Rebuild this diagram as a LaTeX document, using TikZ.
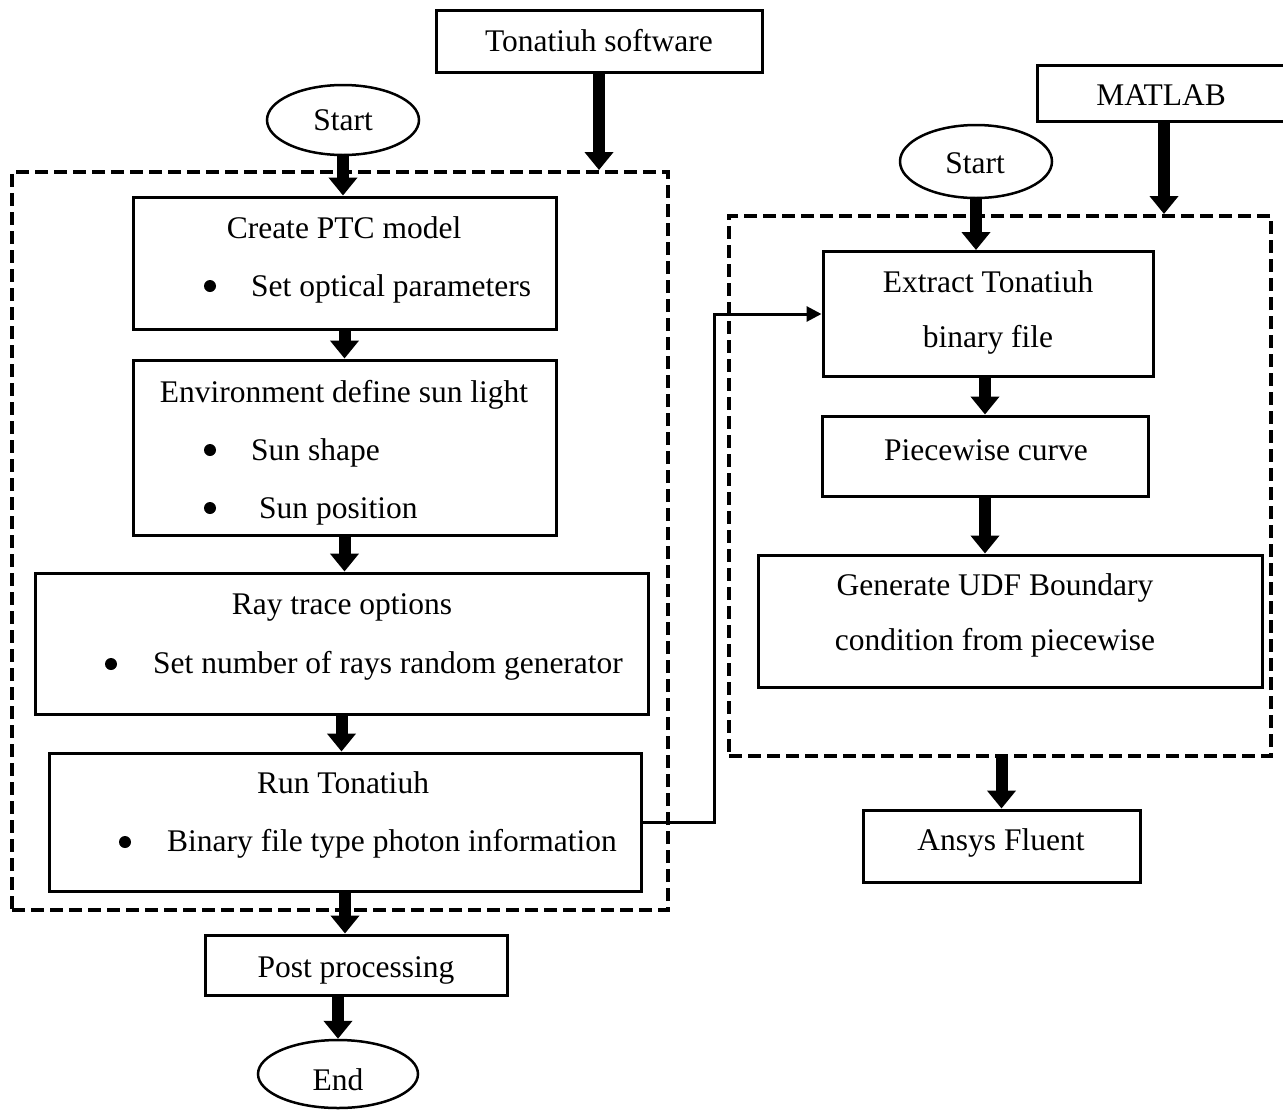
\documentclass[tikz,border=0pt]{standalone}
\usepackage{fontspec}
\setmainfont{Liberation Serif}
\usetikzlibrary{arrows.meta,shapes.geometric}

\tikzset{
  box/.style={draw, line width=3pt, inner sep=0pt},
  terminal/.style={draw, ellipse, line width=2.5pt, inner sep=0pt},
  groupbox/.style={draw, line width=4pt, dash pattern=on 13pt off 6pt, inner sep=0pt},
  txt/.style={anchor=base, inner sep=0pt},
  txtleft/.style={anchor=base west, inner sep=0pt},
  dot/.style={circle, fill, inner sep=0pt, minimum size=12pt},
  flow/.style={line width=12pt, -{Triangle[width=28pt,length=18pt]}},
  link/.style={line width=3pt, -{Triangle[width=15pt,length=15pt]}}
}

\begin{document}
\begin{tikzpicture}[x=1pt, y=-1pt,
    every node/.style={font=\fontsize{31.5}{38}\selectfont}]
\useasboundingbox (0,0) rectangle (1283,1109);
\fill[white] (0,0) rectangle (1283,1109);

% dashed groups
\node[groupbox, minimum width=656, minimum height=738] (leftgroup) at (340,541) {};
\node[groupbox, minimum width=542, minimum height=540] (rightgroup) at (1000,486) {};

% left chain
\node[box, minimum width=326, minimum height=62] (tona) at (599,41) {};
\node[txt] (tonatxt) at (599,51) {Tonatiuh software};

\node[terminal, minimum width=152, minimum height=70] (start1) at (343,120) {};
\node[txt] (start1txt) at (343,130) {Start};

\node[box, minimum width=423, minimum height=132] (ptc) at (344.5,263) {};
\node[txt] (ptctitle) at (344,238) {Create PTC model};
\node[dot] (ptcdot) at (210,286) {};
\node[txtleft] (ptcitem) at (251,296) {Set optical parameters};

\node[box, minimum width=423, minimum height=175] (env) at (344.5,447.5) {};
\node[txt] (envtitle) at (344,402) {Environment define sun light};
\node[dot] (envdota) at (210,450) {};
\node[txtleft] (envitema) at (251,460) {Sun shape};
\node[dot] (envdotb) at (210,508) {};
\node[txtleft] (envitemb) at (259,518) {Sun position};

\node[box, minimum width=613, minimum height=141] (ray) at (341.5,643.5) {};
\node[txt] (raytitle) at (342,614) {Ray trace options};
\node[dot] (raydot) at (111,664) {};
\node[txtleft] (rayitem) at (153,673) {Set number of rays random generator};

\node[box, minimum width=592, minimum height=138] (run) at (345,822) {};
\node[txt] (runtitle) at (343,793) {Run Tonatiuh};
\node[dot] (rundot) at (125,842) {};
\node[txtleft] (runitem) at (167,851) {Binary file type photon information};

\node[box, minimum width=302, minimum height=60] (post) at (356,965) {};
\node[txt] (posttxt) at (356,977) {Post processing};

\node[terminal, minimum width=160, minimum height=68] (end) at (338,1074) {};
\node[txt] (endtxt) at (338,1090) {End};

% right chain
\node[box, minimum width=254, minimum height=56] (matlab) at (1164,93) {};
\node[txt] (matlabtxt) at (1161,105) {MATLAB};

\node[terminal, minimum width=152, minimum height=73] (start2) at (976,161.5) {};
\node[txt] (start2txt) at (975,173) {Start};

\node[box, minimum width=330, minimum height=125] (extract) at (988,314) {};
\node[txt] (extracta) at (988,292) {Extract Tonatiuh};
\node[txt] (extractb) at (988,347) {binary file};

\node[box, minimum width=326, minimum height=80] (piece) at (985,456) {};
\node[txt] (piecetxt) at (986,460) {Piecewise curve};

\node[box, minimum width=504, minimum height=132] (gen) at (1010,621) {};
\node[txt] (gena) at (995,595) {Generate UDF Boundary};
\node[txt] (genb) at (995,650) {condition from piecewise};

\node[box, minimum width=277, minimum height=72] (ansys) at (1001.5,846) {};
\node[txt] (ansystxt) at (1001,850) {Ansys Fluent};

% thick arrows
\draw[flow] (start1.south) -- (start1.south |- ptc.north);
\draw[flow] (tona.south) -- (tona.south |- leftgroup.north);
\draw[flow] (ptc.south) -- (env.north);
\draw[flow] (env.south) -- (env.south |- ray.north);
\draw[flow] (ray.south) -- (ray.south |- run.north);
\draw[flow] (run.south) -- (run.south |- post.north);
\draw[flow] (end.north |- post.south) -- (end.north);

\draw[flow] (matlab.south) -- (matlab.south |- rightgroup.north);
\draw[flow] (start2.south) -- (start2.south |- extract.north);
\draw[flow] (piece.north |- extract.south) -- (piece.north);
\draw[flow] (piece.south) -- (piece.south |- gen.north);
\draw[flow] (ansys.north |- rightgroup.south) -- (ansys.north);

% link between the two parts
\draw[link] (run.east) -- ++(72,0) |- (extract.west);
\end{tikzpicture}
\end{document}
